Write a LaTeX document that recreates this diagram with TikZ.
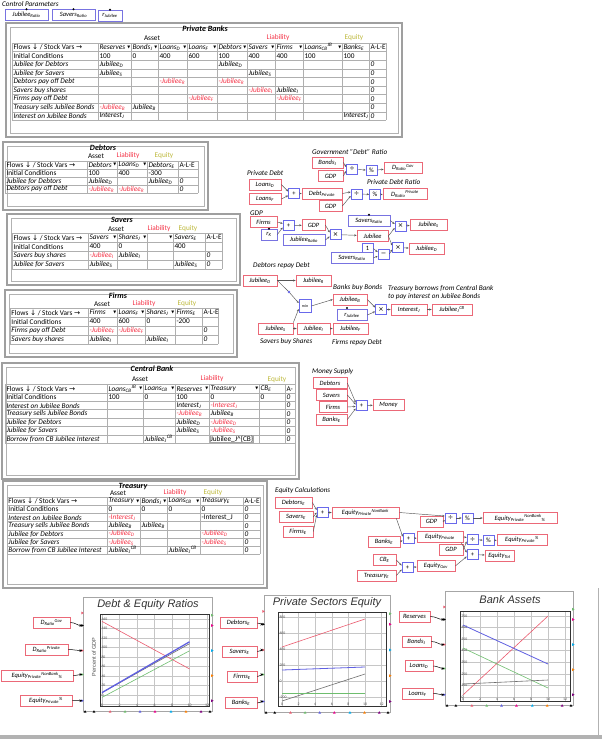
\documentclass[tikz,border=0pt]{standalone}
\usepackage{fontspec}
\setmainfont{Carlito}
\newfontfamily\symf{DejaVu Sans}
\newfontfamily\titf{Liberation Sans}
\usetikzlibrary{arrows.meta}
\definecolor{varred}{RGB}{235,105,120}
\definecolor{parblue}{RGB}{120,115,225}
\definecolor{opblue}{RGB}{105,105,235}
\definecolor{cred}{RGB}{245,50,70}
\definecolor{ceq}{RGB}{190,185,60}
\definecolor{gridc}{RGB}{175,175,175}
\definecolor{wirec}{RGB}{85,85,85}
\definecolor{pred}{RGB}{235,90,110}
\definecolor{pblue}{RGB}{95,95,225}
\definecolor{pgreen}{RGB}{110,190,110}
\definecolor{pgray}{RGB}{110,110,110}
\newcommand\fs{\fontsize{7.3}{8}\selectfont}
\newcommand\fv{\fontsize{6.5}{7}\selectfont}
\newcommand\fl{\fontsize{7.2}{8}\selectfont}
\newcommand\sy[1]{{\symf #1}}
\newcommand\sbs[1]{\textsubscript{#1}}
\newcommand\sps[1]{\textsuperscript{#1}}
\def\ttop{0}\def\trh{8}\def\alex{0}
\newcommand\tabgrid[6]{%
  \foreach \ii in {0,...,#6} \draw[gridl] (#1,{#4+\ii*#5}) -- (#2,{#4+\ii*#5});
  \foreach \xx in {#3} \draw[gridl] (\xx,#4) -- (\xx,{#4+#6*#5});}
\newcommand\cU[3]{\node[ctext] at ({#1+1.3},{\ttop+(#2+0.5)*\trh}) {#3};}
\newcommand\cI[3]{\node[ctext,font=\fs\itshape] at ({#1+1.3},{\ttop+(#2+0.5)*\trh}) {#3};}
\newcommand\cR[3]{\node[ctext,font=\fs\itshape,text=cred] at ({#1+1.3},{\ttop+(#2+0.5)*\trh}) {#3};}
\newcommand\cZ[1]{\node[ctext,font=\fs\itshape] at ({\alex+1.3},{\ttop+(#1+0.5)*\trh}) {0};}
\newcommand\headt[3]{\node[ctext,font=\fs\itshape] at ({#1+1.3},{\ttop+0.5*\trh}) {#3};
  \node[tri] at ({#2-0.4},{\ttop+0.5*\trh}) {\sy{▼}};}
\newcommand\vnode[5][var]{\node[#1,minimum width=#4] (#2) at (#3) {#5};}
\newcommand\plotports[5]{%
 \foreach \f/\pc in {0.14/pred,0.25/black,0.47/pred,0.68/pgreen,0.91/pblue} {\fill[\pc] (#2,{#3+\f*(#5-#3)}) +(0.8,0) -- +(-1.6,-1.4) -- +(-1.6,1.4) -- cycle;}
 \foreach \f/\pc in {0.16/pgreen,0.25/magenta,0.47/cyan,0.69/orange,0.91/violet} {\fill[\pc] (#4,{#3+\f*(#5-#3)}) +(1.6,0) -- +(-0.8,-1.4) -- +(-0.8,1.4) -- cycle;}
 \foreach \f/\pc in {0.016/black,0.085/black,0.21/pred,0.326/pgreen,0.442/pblue,0.558/magenta,0.682/cyan,0.798/orange,0.915/violet,0.984/black} {\fill[\pc] ({#2+\f*(#4-#2)},#5) +(0,-0.8) -- +(-1.4,1.6) -- +(1.4,1.6) -- cycle;}
 \foreach \f/\n in {0.25/a,0.47/b,0.68/c,0.91/d} {\coordinate (#1\n) at ({#2-0.6},{#3+\f*(#5-#3)});}
}
\begin{document}
\begin{tikzpicture}[x=1pt,y=-1pt,
 gridl/.style={draw=gridc,line width=0.45},
 ctext/.style={anchor=west,inner sep=0,font=\fs},
 tri/.style={anchor=east,inner sep=0,font=\fontsize{3.8}{4}\selectfont},
 hdr/.style={inner sep=0,font=\fs},
 frameo/.style={draw=gray!75,line width=1.1},
 framei/.style={draw=gray!60,line width=0.5},
 ttl/.style={inner sep=0,font=\fontsize{8}{9}\selectfont\bfseries\itshape},
 var/.style={draw=varred,line width=0.65,fill=white,inner sep=0.6,minimum height=11,font=\fv\itshape},
 par/.style={draw=parblue,line width=0.65,fill=white,inner sep=0.6,minimum height=11,font=\fv\itshape},
 op/.style={draw=opblue,line width=0.65,fill=white,inner sep=0,minimum width=11,minimum height=10,font=\fv},
 wire/.style={draw=wirec,line width=0.45,-{Stealth[length=2.4,width=2]}},
 pwire/.style={draw=black,line width=0.5,-{Stealth[length=3,width=2.6]}},
 lbl/.style={anchor=west,inner sep=0,font=\fl\itshape},
 pframe/.style={draw=gray!70,line width=0.9,fill=white},
 parea/.style={draw=black!80,line width=0.5},
 pgrid/.style={draw=gray!45,line width=0.4},
 ptitle/.style={inner sep=0,font=\titf\itshape\fontsize{11}{12}\selectfont,text=black!80},
 tick/.style={inner sep=0.3,font=\fontsize{3.8}{4}\selectfont,text=black!70},
]
\fill[white] (0,0) rectangle (602,739);
\useasboundingbox (0,0) rectangle (602,739);

% ---------- control parameters
\node[lbl] (cpt) at (2,4) {Control Parameters};
\vnode[par]{pJR}{26.5,15}{43}{Jubilee\sbs{Ratio}}
\vnode[par]{pSR}{73.5,15}{43}{Savers\sbs{Ratio}}
\vnode[par]{prJ}{110,15.5}{24}{r\sbs{Jubilee}}
\foreach \n in {pJR,pSR,prJ} \fill (\n.north) circle (1.1);

% ---------- Private Banks
\draw[frameo] (6,23) rectangle (402,137);
\draw[framei] (10,27) rectangle (398,133);
\node[ttl] (tPB) at (205,28.5) {Private Banks};
\node[hdr] (hPB1) at (152,38) {Asset};
\node[hdr,text=cred] (hPB2) at (278,38) {Liability};
\node[hdr,text=ceq] (hPB3) at (354,38) {Equity};
\def\ttop{43}\def\trh{8.6}\def\alex{369}
\tabgrid{12}{386}{12,98,131,158,187,217,247,275,303,342,369,386}{43}{8.6}{9}
\cU{12}{0}{Flows \sy{↓} / Stock Vars \sy{→}}
\headt{98}{131}{Reserves}\headt{131}{158}{Bonds\sbs{J}}\headt{158}{187}{Loans\sbs{D}}
\headt{187}{217}{Loans\sbs{F}}\headt{217}{247}{Debtors}\headt{247}{275}{Savers}
\headt{275}{303}{Firms}\headt{303}{342}{Loans\sbs{CB}\sps{JB}}
\cI{342}{0}{Banks\sbs{E}}\cU{369}{0}{A-L-E}
\cU{12}{1}{Initial Conditions}\cU{98}{1}{100}\cU{131}{1}{0}\cU{158}{1}{400}\cU{187}{1}{600}
\cU{217}{1}{100}\cU{247}{1}{400}\cU{275}{1}{400}\cU{303}{1}{100}\cU{342}{1}{100}
\cI{12}{2}{Jubilee for Debtors}\cI{98}{2}{Jubilee\sbs{D}}\cI{217}{2}{Jubilee\sbs{D}}\cZ{2}
\cI{12}{3}{Jubilee for Savers}\cI{98}{3}{Jubilee\sbs{S}}\cI{247}{3}{Jubilee\sbs{S}}\cZ{3}
\cI{12}{4}{Debtors pay off Debt}\cR{158}{4}{-Jubilee\sbs{R}}\cR{217}{4}{-Jubilee\sbs{R}}\cZ{4}
\cI{12}{5}{Savers buy shares}\cR{247}{5}{-Jubilee\sbs{I}}\cI{275}{5}{Jubilee\sbs{I}}\cZ{5}
\cI{12}{6}{Firms pay off Debt}\cR{187}{6}{-Jubilee\sbs{F}}\cR{275}{6}{-Jubilee\sbs{F}}\cZ{6}
\cI{12}{7}{Treasury sells Jubilee Bonds}\cR{98}{7}{-Jubilee\sbs{B}}\cI{131}{7}{Jubilee\sbs{B}}\cZ{7}
\cI{12}{8}{Interest on Jubilee Bonds}\cI{98}{8}{Interest\sbs{J}}\cI{342}{8}{Interest\sbs{J}}\cZ{8}

% ---------- Debtors
\draw[frameo] (3,142) rectangle (208,210);
\draw[framei] (7,146) rectangle (204,206);
\node[ttl] (tDeb) at (103,147.5) {Debtors};
\node[hdr] (hD1) at (96,156) {Asset};
\node[hdr,text=cred] (hD2) at (128,156) {Liability};
\node[hdr,text=ceq] (hD3) at (164,156) {Equity};
\def\ttop{161}\def\trh{8}\def\alex{178}
\tabgrid{5}{198}{5,87,117,147,178,198}{161}{8}{4}
\cU{5}{0}{Flows \sy{↓} / Stock Vars \sy{→}}
\headt{87}{117}{Debtors}\headt{117}{147}{Loans\sbs{D}}\cI{147}{0}{Debtors\sbs{E}}\cU{178}{0}{A-L-E}
\cU{5}{1}{Initial Conditions}\cU{87}{1}{100}\cU{117}{1}{400}\cU{147}{1}{-300}
\cI{5}{2}{Jubilee for Debtors}\cI{87}{2}{Jubilee\sbs{D}}\cI{147}{2}{Jubilee\sbs{D}}\cZ{2}
\cI{5}{3}{Debtors pay off Debt}\cR{87}{3}{-Jubilee\sbs{R}}\cR{117}{3}{-Jubilee\sbs{R}}\cZ{3}

% ---------- Savers
\draw[frameo] (7,214) rectangle (240,285);
\draw[framei] (11,218) rectangle (236,281);
\node[ttl] (tSav) at (122,219.5) {Savers};
\node[hdr] (hS1) at (116,229) {Asset};
\node[hdr,text=cred] (hS2) at (159,229) {Liability};
\node[hdr,text=ceq] (hS3) at (188,229) {Equity};
\def\ttop{233}\def\trh{9}\def\alex{205}
\tabgrid{12}{222}{12,88,117,147,173,205,222}{233}{9}{4}
\cU{12}{0}{Flows \sy{↓} / Stock Vars \sy{→}}
\headt{88}{117}{Savers}\headt{117}{147}{Shares\sbs{J}}
\node[tri] (trS) at (172.6,237.5) {\sy{▼}};
\cI{173}{0}{Savers\sbs{E}}\cU{205}{0}{A-L-E}
\cU{12}{1}{Initial Conditions}\cU{88}{1}{400}\cU{117}{1}{0}\cU{173}{1}{400}
\cI{12}{2}{Savers buy shares}\cR{88}{2}{-Jubilee\sbs{I}}\cI{117}{2}{Jubilee\sbs{I}}\cZ{2}
\cI{12}{3}{Jubilee for Savers}\cI{88}{3}{Jubilee\sbs{S}}\cI{173}{3}{Jubilee\sbs{S}}\cZ{3}

% ---------- Firms
\draw[frameo] (5,290) rectangle (237,357);
\draw[framei] (9,294) rectangle (233,353);
\node[ttl] (tFir) at (118,295.5) {Firms};
\node[hdr] (hF1) at (102,304) {Asset};
\node[hdr,text=cred] (hF2) at (144,304) {Liability};
\node[hdr,text=ceq] (hF3) at (187,304) {Equity};
\def\ttop{308}\def\trh{9}\def\alex{202}
\tabgrid{10}{218}{10,88,117,145,175,202,218}{308}{9}{4}
\cU{10}{0}{Flows \sy{↓} / Stock Vars \sy{→}}
\headt{88}{117}{Firms}\headt{117}{145}{Loans\sbs{F}}\headt{145}{175}{Shares\sbs{J}}
\cI{175}{0}{Firms\sbs{E}}\cU{202}{0}{A-L-E}
\cU{10}{1}{Initial Conditions}\cU{88}{1}{400}\cU{117}{1}{600}\cU{145}{1}{0}\cU{175}{1}{-200}
\cI{10}{2}{Firms pay off Debt}\cR{88}{2}{-Jubilee\sbs{F}}\cR{117}{2}{-Jubilee\sbs{F}}\cZ{2}
\cI{10}{3}{Savers buy shares}\cI{88}{3}{Jubilee\sbs{I}}\cI{145}{3}{Jubilee\sbs{I}}\cZ{3}

% ---------- Central Bank
\draw[frameo] (2,363) rectangle (299,479);
\draw[framei] (6,367) rectangle (295,475);
\node[ttl] (tCB) at (152,369) {Central Bank};
\node[hdr] (hC1) at (140,379) {Asset};
\node[hdr,text=cred] (hC2) at (212,379) {Liability};
\node[hdr,text=ceq] (hC3) at (277,380) {Equity};
\def\ttop{384.5}\def\trh{8.4}\def\alex{285}
\tabgrid{5}{295}{5,107,143,175,209,259,285}{384.5}{8.4}{7}
\cU{5}{0}{Flows \sy{↓} / Stock Vars \sy{→}}
\headt{107}{143}{Loans\sbs{CB}\sps{JB}}\headt{143}{175}{Loans\sbs{CB}}\headt{175}{209}{Reserves}
\headt{209}{259}{Treasury}\cI{259}{0}{CB\sbs{E}}\cU{285}{0}{A-}
\cU{5}{1}{Initial Conditions}\cU{107}{1}{100}\cU{143}{1}{0}\cU{175}{1}{100}\cU{209}{1}{0}\cU{259}{1}{0}\cZ{1}
\cI{5}{2}{Interest on Jubilee Bonds}\cI{175}{2}{Interest\sbs{J}}\cR{209}{2}{-Interest\sbs{J}}\cZ{2}
\cI{5}{3}{Treasury sells Jubilee Bonds}\cR{175}{3}{-Jubilee\sbs{B}}\cI{209}{3}{Jubilee\sbs{B}}\cZ{3}
\cI{5}{4}{Jubilee for Debtors}\cI{175}{4}{Jubilee\sbs{D}}\cR{209}{4}{-Jubilee\sbs{D}}\cZ{4}
\cI{5}{5}{Jubilee for Savers}\cI{175}{5}{Jubilee\sbs{S}}\cR{209}{5}{-Jubilee\sbs{S}}\cZ{5}
\cI{5}{6}{Borrow from CB Jubilee Interest}\cI{143}{6}{Jubilee\sbs{J}\sps{CB}}\cZ{6}
\node[ctext,draw=gray!70,line width=0.3,inner sep=0.4] (cbed) at (210,{384.5+6.5*8.4}) {Jubilee\_J\^{}\{CB\}};

% ---------- Treasury
\draw[frameo] (3,481) rectangle (267,588);
\draw[framei] (7,485) rectangle (263,584);
\node[ttl] (tTr) at (133,486.5) {Treasury};
\node[hdr] (hT1) at (118,493) {Asset};
\node[hdr,text=cred] (hT2) at (175,493) {Liability};
\node[hdr,text=ceq] (hT3) at (213,493) {Equity};
\def\ttop{497}\def\trh{8.2}\def\alex{243}
\tabgrid{7}{260}{7,107,140,167,200,243,260}{497}{8.2}{7}
\cU{7}{0}{Flows \sy{↓} / Stock Vars \sy{→}}
\headt{107}{140}{Treasury}\headt{140}{167}{Bonds\sbs{J}}\headt{167}{200}{Loans\sbs{CB}}
\cI{200}{0}{Treasury\sbs{E}}\cU{243}{0}{A-L-E}
\cU{7}{1}{Initial Conditions}\cU{107}{1}{0}\cU{140}{1}{0}\cU{167}{1}{0}\cU{200}{1}{0}\cZ{1}
\cI{7}{2}{Interest on Jubilee Bonds}\cR{107}{2}{-Interest\sbs{J}}\cU{200}{2}{-Interest\_J}\cZ{2}
\cI{7}{3}{Treasury sells Jubilee Bonds}\cI{107}{3}{Jubilee\sbs{B}}\cI{140}{3}{Jubilee\sbs{B}}\cZ{3}
\cI{7}{4}{Jubilee for Debtors}\cR{107}{4}{-Jubilee\sbs{D}}\cR{200}{4}{-Jubilee\sbs{D}}\cZ{4}
\cI{7}{5}{Jubilee for Savers}\cR{107}{5}{-Jubilee\sbs{S}}\cR{200}{5}{-Jubilee\sbs{S}}\cZ{5}
\cI{7}{6}{Borrow from CB Jubilee Interest}\cI{107}{6}{Jubilee\sbs{J}\sps{CB}}\cI{167}{6}{Jubilee\sbs{J}\sps{CB}}\cZ{6}

% ---------- Government debt ratio
\node[lbl] (lGov) at (312,152) {Government "Debt" Ratio};
\vnode{vBonds}{327.5,162.5}{31}{Bonds\sbs{J}}
\vnode{vGDP1}{330.5,176}{25}{GDP}
\node[op] (oDiv1) at (352,169) {\sy{÷}};
\node[op] (oPct1) at (371.5,170.5) {\%};
\vnode{vDRG}{403,167.5}{38}{D\sbs{Ratio}\sps{Gov}}
% private debt
\node[lbl] (lPD) at (247,173) {Private Debt};
\vnode{vLD}{265,184.5}{32}{Loans\sbs{D}}
\vnode{vLF}{265,199}{32}{Loans\sbs{F}}
\node[op] (oPlus1) at (294,193.5) {+};
\vnode{vDP}{322,193.5}{40}{Debt\sbs{Private}}
\node[lbl] (lPDR) at (367,182) {Private Debt Ratio};
\vnode{vGDP2}{330.5,206}{23}{GDP}
\node[op] (oDiv2) at (356.5,194) {\sy{÷}};
\node[op] (oPct2) at (375,194.5) {\%};
\vnode{vDRP}{405,194}{44}{D\sbs{Ratio}\sps{Private}}
% GDP and jubilee
\node[lbl] (lGDP) at (250,213) {GDP};
\vnode{vFirms}{263.5,222}{27}{Firms}
\vnode[par]{prK}{269,234.5}{16}{r\sbs{K}}
\fill (prK.north) circle (1.1);
\node[op] (oPlus2) at (288.5,225.5) {+};
\vnode{vGDP3}{313.5,225}{23}{GDP}
\vnode[par]{pJR2}{304,240}{42}{Jubilee\sbs{Ratio}}
\node[op] (oMul1) at (335.5,234.5) {\sy{×}};
\vnode[par]{pSR1}{369,220.5}{42}{Savers\sbs{Ratio}}
\fill (pSR1.north) circle (1.1);
\vnode{vJub}{372.5,236}{31}{Jubilee}
\node[op] (oMul2) at (400.5,226) {\sy{×}};
\vnode{vJS}{428.5,224.5}{37}{Jubilee\sbs{S}}
\node[op] (oMul3) at (398,247.5) {\sy{×}};
\vnode{vJD}{426.5,249}{35}{Jubilee\sbs{D}}
\node[op] (cOne) at (367.5,248.5) {1};
\node[op] (oMinus) at (383.5,254) {\sy{−}};
\vnode[par]{pSR2}{352,258}{42}{Savers\sbs{Ratio}}
\draw[wire] (vBonds.east) -- ([yshift=2]oDiv1.west);
\draw[wire] (vGDP1.east) -- ([yshift=-2]oDiv1.west);
\draw[wire] (oDiv1) -- (oPct1);
\draw[wire] (oPct1) -- (vDRG);
\draw[wire] (vLD.east) -- ([yshift=2]oPlus1.west);
\draw[wire] (vLF.east) -- ([yshift=-2]oPlus1.west);
\draw[wire] (oPlus1) -- (vDP);
\draw[wire] (vDP.east) -- ([yshift=2]oDiv2.west);
\draw[wire] (vGDP2.east) -- ([yshift=-2]oDiv2.west);
\draw[wire] (oDiv2) -- (oPct2);
\draw[wire] (oPct2) -- (vDRP);
\draw[wire] (vFirms.east) -- ([yshift=2]oPlus2.west);
\draw[wire] (prK.east) -- ([yshift=-2]oPlus2.west);
\draw[wire] (oPlus2) -- (vGDP3);
\draw[wire] (vGDP3.east) -- ([yshift=2]oMul1.west);
\draw[wire] (pJR2.east) -- ([yshift=-2]oMul1.west);
\draw[wire] (oMul1) -- (vJub);
\draw[wire] (pSR1.east) -- ([yshift=2]oMul2.west);
\draw[wire] (vJub.east) -- ([yshift=-2]oMul2.west);
\draw[wire] (oMul2) -- (vJS);
\draw[wire] (vJub.east) -- ([yshift=2]oMul3.west);
\draw[wire] (oMinus.east) -- ([yshift=-2]oMul3.west);
\draw[wire] (oMul3) -- (vJD);
\draw[wire] (cOne.east) -- ([yshift=2]oMinus.west);
\draw[wire] (pSR2.east) -- ([yshift=-2]oMinus.west);

% ---------- Debtors repay debt etc.
\node[lbl] (lDRD) at (253,266) {Debtors repay Debt};
\vnode{vJD2}{260,280.5}{34}{Jubilee\sbs{D}}
\vnode{vJR}{313.5,280.5}{35}{Jubilee\sbs{R}}
\coordinate (dA) at (289,292);
\node[op,minimum width=12,minimum height=13,font=\fontsize{4}{4}\selectfont] (oMin) at (305,306) {min};
\node[lbl] (lBBB) at (333,288) {Banks buy Bonds};
\vnode{vJB}{350,299.5}{34}{Jubilee\sbs{B}}
\vnode[par]{prJ2}{352,315}{30}{r\sbs{Jubilee}}
\fill (347,308) circle (1.1);
\node[op] (oMul4) at (381,309.5) {\sy{×}};
\node[lbl] (lTB1) at (388,289) {Treasury borrows from Central Bank};
\node[lbl] (lTB2) at (388,296.5) {to pay interest on Jubilee Bonds};
\vnode{vIJ}{409,309.5}{36}{Interest\sbs{J}}
\vnode{vJJCB}{452,309.5}{40}{Jubilee\sbs{J}\sps{CB}}
\vnode{vJS2}{275.5,328.5}{35}{Jubilee\sbs{S}}
\vnode{vJI}{313.5,328.5}{33}{Jubilee\sbs{I}}
\vnode{vJF}{350.5,328.5}{35}{Jubilee\sbs{F}}
\node[lbl] (lSBS) at (260,342) {Savers buy Shares};
\node[lbl] (lFRD) at (332,343) {Firms repay Debt};
\draw[wire] (vJD2) -- (vJR);
\draw[wire] (vJD2.east) -- (dA) -- ([yshift=3]oMin.west);
\fill[opblue] (dA) circle (1.3);
\draw[wire] (vJS2.north east) -- ([yshift=-3]oMin.west);
\draw[wire] (oMin.east) -- (vJB.west);
\draw[wire] (vJS2) -- (vJI);
\draw[wire] (vJI) -- (vJF);
\draw[wire] (vJB.east) -- ([yshift=2]oMul4.west);
\draw[wire] (prJ2.east) -- ([yshift=-2]oMul4.west);
\draw[wire] (oMul4) -- (vIJ);
\draw[wire] (vIJ) -- (vJJCB);

% ---------- Money supply
\node[lbl] (lMS) at (312,372) {Money Supply};
\vnode{vDeb}{330,383}{34}{Debtors}
\vnode{vSav}{331.5,395}{31}{Savers}
\vnode{vFir}{333,407}{28}{Firms}
\vnode{vBE}{331.5,419.5}{31}{Banks\sbs{E}}
\node[op] (oPlus3) at (361.5,405.5) {+};
\vnode{vMoney}{388.5,405}{31}{Money}
\draw[wire] (vDeb.east) -- ([yshift=3]oPlus3.west);
\draw[wire] (vSav.east) -- ([yshift=1]oPlus3.west);
\draw[wire] (vFir.east) -- ([yshift=-1]oPlus3.west);
\draw[wire] (vBE.east) -- ([yshift=-3]oPlus3.west);
\draw[wire] (oPlus3) -- (vMoney);

% ---------- Equity calculations
\node[lbl] (lEC) at (275,491) {Equity Calculations};
\vnode{vDE}{293.5,502.5}{37}{Debtors\sbs{E}}
\vnode{vSE}{296,517}{34}{Savers\sbs{E}}
\vnode{vFE}{298,531.5}{30}{Firms\sbs{E}}
\node[op] (oPlus4) at (322.5,512.5) {+};
\vnode{vEPNB}{365.5,512.5}{67}{Equity\sbs{Private}\sps{NonBank}}
\vnode{vGDP4}{431.5,521.5}{23}{GDP}
\node[op] (oDiv3) at (450.5,518) {\sy{÷}};
\node[op] (oPct3) at (467.5,518) {\%};
\vnode{vEPNBp}{520,518}{74}{Equity\sbs{Private}\sps{NonBank}\sbs{\%}}
\vnode{vBE2}{384,541.5}{32}{Banks\sbs{E}}
\node[op] (oPlus5) at (408.5,538.5) {+};
\vnode{vEP}{440,537}{46}{Equity\sbs{Private}}
\vnode{vGDP5}{451,549.5}{24}{GDP}
\node[op] (oDiv4) at (472.5,539.5) {\sy{÷}};
\node[op] (oPct4) at (488.5,540.5) {\%};
\vnode{vEPp}{522,539.5}{50}{Equity\sbs{Private}\sps{\%}}
\node[op] (oPlus6) at (472.5,554.5) {+};
\vnode{vET}{499.5,555.5}{29}{Equity\sbs{Tot}}
\vnode{vCBE}{384.5,560}{23}{CB\sbs{E}}
\vnode{vTE}{376.5,575.5}{39}{Treasury\sbs{E}}
\node[op] (oPlus7) at (407.5,567.5) {+};
\vnode{vEG}{436,566}{38}{Equity\sbs{Gov}}
\draw[wire] (vDE.east) -- ([yshift=2.5]oPlus4.west);
\draw[wire] (vSE.east) -- (oPlus4.west);
\draw[wire] (vFE.east) -- ([yshift=-2.5]oPlus4.west);
\draw[wire] (oPlus4) -- (vEPNB);
\draw[wire] (vEPNB.east) -- ([yshift=2]oDiv3.west);
\draw[wire] (vGDP4.east) -- ([yshift=-2]oDiv3.west);
\draw[wire] (oDiv3) -- (oPct3);
\draw[wire] (oPct3) -- (vEPNBp);
\draw[wire] ([xshift=-3]vEPNB.south east) -- ([yshift=2]oPlus5.west);
\draw[wire] (vBE2.east) -- ([yshift=-2]oPlus5.west);
\draw[wire] (oPlus5) -- (vEP);
\draw[wire] (vEP.east) -- ([yshift=2]oDiv4.west);
\draw[wire] (vGDP5.east) -- ([yshift=-2]oDiv4.west);
\draw[wire] (oDiv4) -- (oPct4);
\draw[wire] (oPct4) -- (vEPp);
\draw[wire] ([xshift=-2]vEP.south east) -- ([yshift=2]oPlus6.west);
\draw[wire] (vEG.east) -- ([yshift=-2]oPlus6.west);
\draw[wire] (oPlus6) -- (vET);
\draw[wire] (vCBE.east) -- ([yshift=2]oPlus7.west);
\draw[wire] (vTE.east) -- ([yshift=-2]oPlus7.west);
\draw[wire] (oPlus7) -- (vEG);

% ---------- Plot 1
\draw[pframe] (83,597) rectangle (212,711);
\node[ptitle] (pt1) at (148,605) {Debt \& Equity Ratios};
\draw[pgrid] foreach \t in {0,2,...,12} {({102+8.75*\t},614.7) -- ({102+8.75*\t},706.7)};
\draw[pgrid] foreach \v in {-20,0,...,160} {(100,{695-0.475*\v}) -- (209,{695-0.475*\v})};
\draw[parea] (100,614.7) rectangle (209,706.7);
\foreach \v in {0,20,...,160} \node[tick,anchor=west] at (101,{695-0.475*\v}) {\v};
\foreach \t in {0,2,...,12} \node[tick,anchor=south] at ({102+8.75*\t},707) {\t};
\node[inner sep=0,rotate=90,font=\titf\fontsize{5.5}{6}\selectfont,text=black!70] (yl1) at (94,657) {Percent of GDP};
\draw[pred,line width=0.6] (102,621.4) -- (189.5,668.9);
\draw[pgray,line width=0.6] (102,692.6) -- (189.5,643.7);
\draw[pblue,line width=1.3] (102,692.6) -- (189.5,641.8);
\draw[pgreen,line width=0.6] (102,697.4) -- (189.5,650.8);
\plotports{pA}{83}{597}{212}{711}
% Plot 2
\draw[pframe] (264,595) rectangle (390,712);
\node[ptitle] (pt2) at (327,603) {Private Sectors Equity};
\draw[pgrid] foreach \t in {0,2,...,12} {({282+8.3*\t},612) -- ({282+8.3*\t},706)};
\draw[pgrid] foreach \v in {-200,0,...,800} {(278,{681-0.08*\v}) -- (386,{681-0.08*\v})};
\draw[parea] (278,612) rectangle (386,706);
\foreach \v in {-200,0,...,800} \node[tick,anchor=west] at (279,{681-0.08*\v}) {\v};
\foreach \t in {0,2,...,12} \node[tick,anchor=south] at ({282+8.3*\t},706) {\t};
\draw[pred,line width=0.6] (282,647) -- (365,619);
\draw[pblue,line width=0.8] (282,670) -- (365,667);
\draw[pgray,line width=0.6] (282,701) -- (365,674);
\draw[pgreen,line width=0.6] (282,693) -- (365,693);
\plotports{pB}{264}{595}{390}{712}
% Plot 3
\draw[pframe] (445,591) rectangle (573,705);
\node[ptitle] (pt3) at (510,600) {Bank Assets};
\draw[pgrid] foreach \t in {0,2,...,12} {({463+8.5*\t},611) -- ({463+8.5*\t},701)};
\draw[pgrid] foreach \v in {0,100,...,700} {(460,{697-0.116*\v}) -- (570,{697-0.116*\v})};
\draw[parea] (460,611) rectangle (570,701);
\foreach \v in {0,100,...,700} \node[tick,anchor=west] at (461,{697-0.116*\v}) {\v};
\foreach \t in {0,2,...,12} \node[tick,anchor=south] at ({463+8.5*\t},701) {\t};
\draw[pred,line width=0.6] (463,695) -- (548,616);
\draw[pblue,line width=0.8] (463,625) -- (548,664);
\draw[pgreen,line width=0.6] (463,648) -- (548,688);
\draw[pgray,line width=0.6] (463,684) -- (548,680);
\plotports{pC}{445}{591}{573}{705}

% plot input variables
\vnode{vpDRG}{51.5,622.5}{37}{D\sbs{Ratio}\sps{Gov}}
\vnode{vpDRP}{46.5,649.5}{43}{D\sbs{Ratio}\sps{Private}}
\vnode{vpENB}{37,675.5}{72}{Equity\sbs{Private}\sps{NonBank}\sbs{\%}}
\vnode{vpEP}{46,700.5}{52}{Equity\sbs{Private}\sps{\%}}
\vnode{vpDE}{238.5,623}{37}{Debtors\sbs{E}}
\vnode{vpSE}{239.5,651.5}{35}{Savers\sbs{E}}
\vnode{vpFE}{242,676.5}{30}{Firms\sbs{E}}
\vnode{vpBE}{241,703}{32}{Banks\sbs{E}}
\vnode{vpRes}{414.5,616.5}{31}{Reserves}
\vnode{vpBJ}{416.5,641.5}{29}{Bonds\sbs{J}}
\vnode{vpLD}{419,666}{28}{Loans\sbs{D}}
\vnode{vpLF}{417.5,693.5}{31}{Loans\sbs{F}}
\draw[pwire] (vpDRG.east) to[out=0,in=180] (pAa);
\draw[pwire] (vpDRP.east) to[out=0,in=180] (pAb);
\draw[pwire] (vpENB.east) to[out=0,in=180] (pAc);
\draw[pwire] (vpEP.east) to[out=0,in=180] (pAd);
\draw[pwire] (vpDE.east) to[out=0,in=180] (pBa);
\draw[pwire] (vpSE.east) to[out=0,in=180] (pBb);
\draw[pwire] (vpFE.east) to[out=0,in=180] (pBc);
\draw[pwire] (vpBE.east) to[out=0,in=180] (pBd);
\draw[pwire] (vpRes.east) to[out=0,in=180] (pCa);
\draw[pwire] (vpBJ.east) to[out=0,in=180] (pCb);
\draw[pwire] (vpLD.east) to[out=0,in=180] (pCc);
\draw[pwire] (vpLF.east) to[out=0,in=180] (pCd);

% window edges
\draw[gray!60,line width=1] (598,588) -- (598,735);
\fill[gray!60] (0,735) rectangle (602,739);
\end{tikzpicture}
\end{document}
